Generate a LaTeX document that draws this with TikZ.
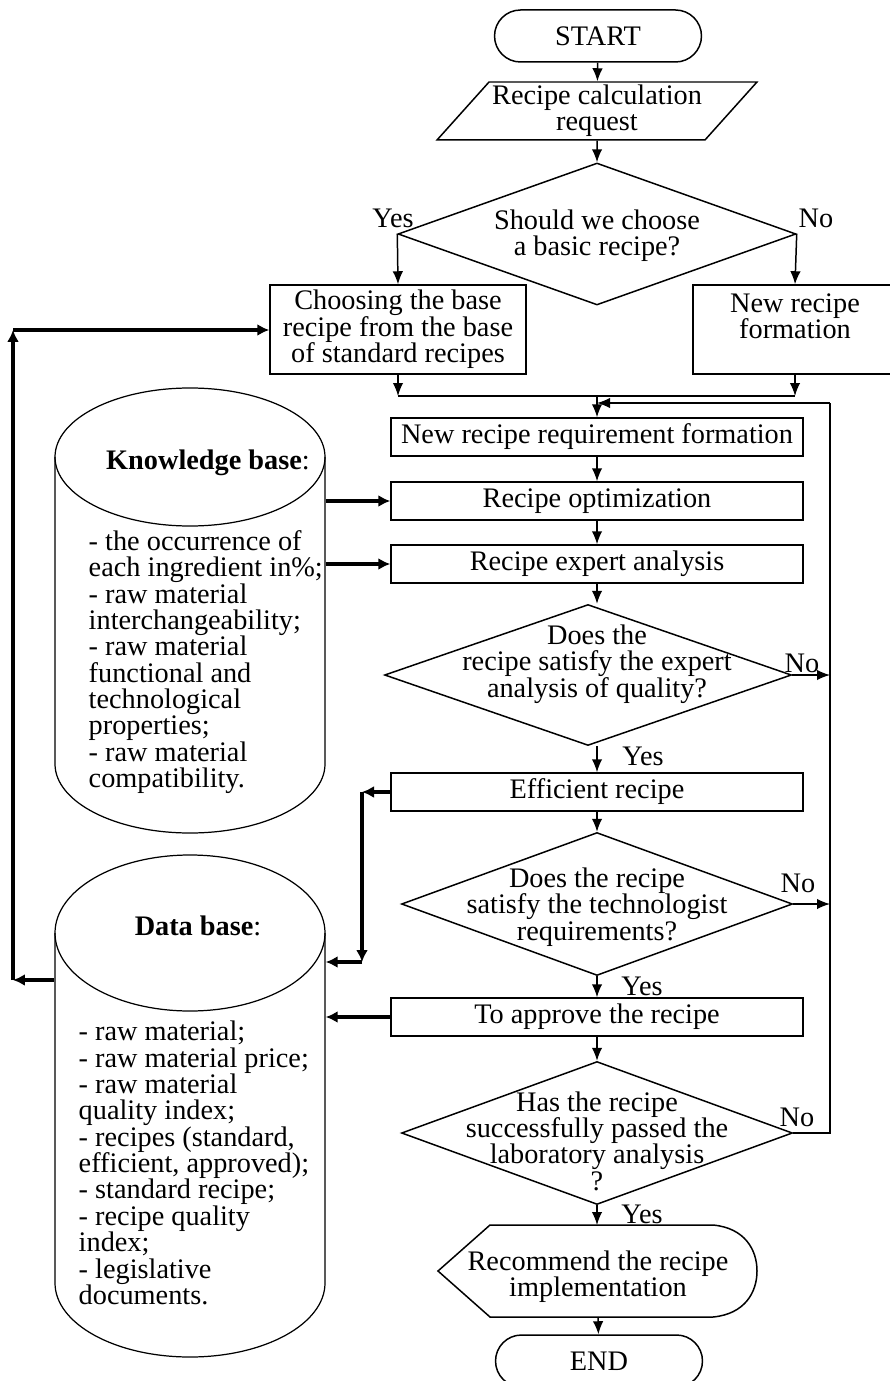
\documentclass[tikz,border=0pt]{standalone}
\usepackage{fontspec}
\setmainfont{Liberation Serif}
\usetikzlibrary{arrows.meta,shapes.geometric,shapes.misc}
\newcommand\flowfont{\fontsize{16.1}{15}\selectfont}
\tikzset{
  term/.style={rounded rectangle,draw,minimum width=4.14cm,minimum height=1.04cm,
    inner sep=0pt,font=\flowfont},
  io/.style={trapezium,trapezium left angle=45,trapezium right angle=135,
    trapezium stretches body,draw,minimum width=6.4cm,minimum height=1.16cm,
    inner sep=0pt,align=center,font=\flowfont},
  proc/.style={rectangle,draw,minimum width=8.24cm,minimum height=0.76cm,
    inner sep=0pt,align=center,font=\flowfont},
  decision/.style={diamond,draw,inner sep=0pt},
  lbl/.style={inner sep=0pt,align=center,font=\flowfont},
  listtxt/.style={inner sep=0pt,align=left,anchor=west,font=\flowfont},
  % invisible frame round a data store
  store/.style={rectangle,draw=none,minimum width=5.4cm,inner sep=0pt},
  arr/.style={-{Latex[length=2.6mm,width=2.1mm]}},
  barr/.style={-{Latex[length=2.4mm,width=2.4mm]},line width=2.2pt}
}
\begin{document}
\begin{tikzpicture}[x=0.02cm,y=-0.02cm,line width=0.85pt]
  \useasboundingbox (0,0) rectangle (889,1381);
  % main column
  \node[term] (start) at (598,36) {START};
  \node[io] (req) at (597,111) {Recipe calculation\\request};
  \node[decision,minimum width=7.96cm,minimum height=2.84cm] (q1) at (597,234) {};
  \node[lbl] (q1t) at (597,236) {Should we choose\\a basic recipe?};
  \node[lbl] (q1y) at (393,218) {Yes};
  \node[lbl] (q1n) at (816,218) {No};
  \node[proc,minimum width=5.12cm,minimum height=1.78cm] (choose) at (398,329.5)
    {Choosing the base\\recipe from the base\\of standard recipes};
  \node[proc,minimum width=4.08cm,minimum height=1.78cm] (newrec) at (795,329.5)
    {New recipe\\formation\\\mbox{}};
  \node[proc] (nrf) at (597,437) {New recipe requirement formation};
  \node[proc] (opt) at (597,501) {Recipe optimization};
  \node[proc] (exp) at (597,564) {Recipe expert analysis};
  \node[decision,minimum width=8.14cm,minimum height=2.82cm] (q2) at (588,675) {};
  \node[lbl] (q2t) at (597,664) {Does the\\recipe satisfy the expert\\analysis of quality?};
  \node[lbl] (q2y) at (643,756) {Yes};
  \node[lbl] (q2n) at (802,663) {No};
  \node[proc] (eff) at (597,792) {Efficient recipe};
  \node[decision,minimum width=7.82cm,minimum height=2.86cm] (q3) at (597,904) {};
  \node[lbl] (q3t) at (597,907) {Does the recipe\\satisfy the technologist\\requirements?};
  \node[lbl] (q3y) at (642,986) {Yes};
  \node[lbl] (q3n) at (798,883) {No};
  \node[proc] (appr) at (597,1017) {To approve the recipe};
  \node[decision,minimum width=7.82cm,minimum height=2.86cm] (q4) at (597,1133) {};
  \node[lbl] (q4t) at (597,1141) {Has the recipe\\successfully passed the\\laboratory analysis\\?};
  \node[lbl] (q4y) at (642,1214) {Yes};
  \node[lbl] (q4n) at (797,1117) {No};
  \draw (438,1271) -- (490,1225) -- (713,1225)
    .. controls (745,1228) and (757,1250) .. (757,1271)
    .. controls (757,1292) and (745,1314) .. (713,1317) -- (490,1317) -- cycle;
  \node[lbl] (rec) at (598,1277) {Recommend the recipe\\implementation};
  \node[term] (end) at (599,1361) {END};

  % data stores
  \node[store,minimum height=8.9cm] (kb) at (190,610.5) {};
  \draw[line width=0.7pt] (190,457) ellipse [x radius=135,y radius=69];
  \draw[line width=0.7pt] (55,457) -- (55,764) arc [start angle=180,end angle=0,x radius=135,y radius=69] -- (325,457);
  \node[lbl] (kbt) at (208,463) {\textbf{Knowledge base}:};
  \node[listtxt] (kbl) at (88,662) {- the occurrence of\\each ingredient in\%;\\- raw material\\interchangeability;\\- raw material\\functional and\\technological\\properties;\\- raw material\\compatibility.};
  \node[store,minimum height=10.04cm] (db) at (190,1106) {};
  \draw[line width=0.7pt] (190,933) ellipse [x radius=135,y radius=78];
  \draw[line width=0.7pt] (55,933) -- (55,1283) arc [start angle=180,end angle=0,x radius=135,y radius=74] -- (325,933);
  \node[lbl] (dbt) at (198,926) {\textbf{Data base}:};
  \node[listtxt] (dbl) at (78,1163) {- raw material;\\- raw material price;\\- raw material\\quality index;\\- recipes (standard,\\efficient, approved);\\- standard recipe;\\- recipe quality\\index;\\- legislative\\documents.};

  % flow
  \draw[arr] (start) -- (req);
  \draw[arr] (req) -- (q1);
  \draw[arr] (q1.west) -- (choose.north);
  \draw[arr] (q1.east) -- (newrec.north);
  \coordinate (m) at (597,396);
  \draw[arr] (choose.south) -- (choose.south |- m);
  \draw[arr] (newrec.south) -- (newrec.south |- m);
  \draw (choose.south |- m) -- (newrec.south |- m);
  \draw[arr] (m) -- (nrf.north);
  \draw[arr] (nrf) -- (opt);
  \draw[arr] (opt) -- (exp);
  \draw[arr] (exp.south) -- (exp.south |- q2.north);
  \draw[arr] (eff.north |- q2.south) -- (eff.north);
  \draw[arr] (eff) -- (q3);
  \draw[arr] (q3) -- (appr);
  \draw[arr] (appr) -- (q4);
  \draw[arr] (q4.south) -- (q4.south |- 0,1225);
  \draw[arr] (rec.south |- 0,1317) -- (end);
  % loop back on the right
  \coordinate (rl) at (830,403);
  \draw[arr] (q2.east) -- (q2.east -| rl);
  \draw[arr] (q3.east) -- (q3.east -| rl);
  \draw (q4.east) -- (q4.east -| rl) -- (rl);
  \draw[arr] (rl) -- (rl -| m);
  % data links
  \draw[barr] (kb.east |- opt) -- (opt.west);
  \draw[barr] (kb.east |- exp) -- (exp.west);
  \coordinate (ec) at (362,792);
  \coordinate (ed) at (362,962);
  \draw[barr] (eff.west) -- (ec);
  \draw[barr] (ec) -- (ed);
  \draw[barr] (ed) -- (db.east |- ed);
  \draw[barr] (appr.west) -- (db.east |- appr);
  \coordinate (lb) at (13,980);
  \coordinate (lt) at (13,330);
  \draw[barr] (db.west |- lb) -- (lb);
  \draw[barr] (lb) -- (lt);
  \draw[barr] (lt) -- (choose.west |- lt);
\end{tikzpicture}
\end{document}
